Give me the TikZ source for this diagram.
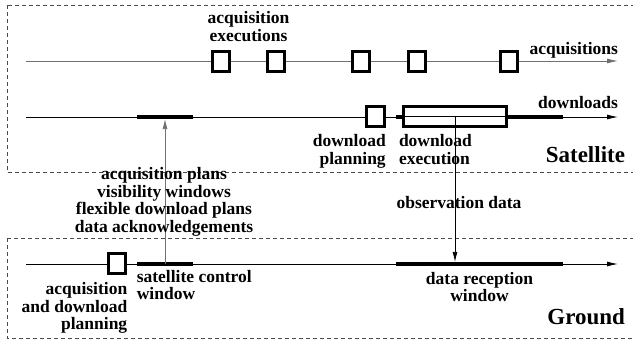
\documentclass[tikz,border=0pt]{standalone}
\usepackage{fontspec}
\setmainfont{Liberation Serif}
\usepackage{tikz}
\usetikzlibrary{arrows.meta,positioning,calc}
\definecolor{PlanGray}{HTML}{707070}
\definecolor{ZoneGray}{HTML}{4A4A4A}
\tikzset{
  zone/.style={draw=ZoneGray, line width=0.8pt, dash pattern=on 4pt off 3pt},
  timeline/.style={-{Latex[length=11pt,width=5pt]}, line width=0.9pt},
  track/.style={line width=0.9pt},
  flow/.style={-{Latex[length=10pt,width=5pt]}, line width=0.8pt},
  slot/.style={draw, line width=3pt, fill=white, inner sep=0pt,
    minimum width=17.5pt, minimum height=20pt},
  window/.style={fill=black, inner sep=0pt, minimum height=3.8pt},
  lbl/.style={inner sep=0pt, outer sep=0pt, font=\bfseries\fontsize{17.5}{17.5}\selectfont},
  zonelbl/.style={inner sep=0pt, outer sep=0pt, font=\bfseries\fontsize{23}{23}\selectfont}
}

\begin{document}
\begin{tikzpicture}[x=1pt, y=-1pt]
  \useasboundingbox (0,0) rectangle (633,343);
  % satellite and ground zones
  \draw[zone] (7,5) rectangle (637,172);
  \draw[zone] (7,238) rectangle (637,338);
  % time lines
  \coordinate (acqstart) at (26,61);
  \coordinate (acqend) at (618,61);
  \coordinate (dlstart) at (26,117);
  \coordinate (dlend) at (618,117);
  \coordinate (gndstart) at (26,264);
  \coordinate (gndend) at (618,264);
  \draw[timeline, draw=PlanGray] (acqstart) -- (acqend);
  \draw[timeline] (dlstart) -- (dlend);
  \draw[timeline] (gndstart) -- (gndend);
  % acquisitions
  \node[slot] (acq1) at (221,61) {};
  \node[slot] (acq2) at (276,61) {};
  \node[slot] (acq3) at (361,61) {};
  \node[slot] (acq4) at (417,61) {};
  \node[slot] (acq5) at (509,61) {};
  % downloads
  \node[window, minimum width=56pt] (satwin) at (165,117) {};
  \node[window, minimum width=167pt] (dlwin) at (479.5,117) {};
  \node[slot] (dlplan) at (375.5,116) {};
  \node[slot, minimum width=103pt] (dlexec) at (455,116) {};
  \draw[track] (dlexec.west) -- (dlexec.east);
  % ground
  \node[slot] (gndplan) at (117,263) {};
  \node[window, minimum width=56pt] (gndwin) at (165,264) {};
  \node[window, minimum width=167pt] (rxwin) at (479.5,264) {};
  % exchanges
  \draw[flow, draw=PlanGray] (gndwin.center) -- (satwin);
  \draw[flow] (dlexec.center) -- (dlexec.center |- rxwin.north);
  % labels
  \node[lbl, align=center, above=8pt of $(acq1.north)!0.5!(acq2.north)$] (acqexlbl) {acquisition\\executions};
  \node[lbl, above left=3pt and 0pt of acqend] (acqlbl) {acquisitions};
  \node[lbl, above left=8pt and 0pt of dlend] (dllbl) {downloads};
  \node[lbl, align=right, below left=7pt and 0pt of dlplan.south east] (dlplanlbl) {download\\planning};
  \node[lbl, align=left, below right=7pt and -3pt of dlexec.south west] (dlexeclbl) {download\\execution};
  \node[zonelbl, anchor=base east] (satlbl) at (625,162) {Satellite};
  \node[lbl, align=center] (msglbl) at (164,202) {acquisition plans\\visibility windows\\flexible download plans\\data acknowledgements};
  \node[lbl] (obslbl) at (459,203) {observation data};
  \node[lbl, align=left, below right=4pt and 0pt of gndwin.south west] (gndwinlbl) {satellite control\\window};
  \node[lbl, align=right, below left=8pt and 0pt of gndplan.south east] (gndplanlbl) {acquisition\\and download\\planning};
  \node[lbl, align=center, below=6pt of rxwin] (rxlbl) {data reception\\window};
  \node[zonelbl, anchor=base east] (gndlbl) at (625,324) {Ground};
\end{tikzpicture}
\end{document}
